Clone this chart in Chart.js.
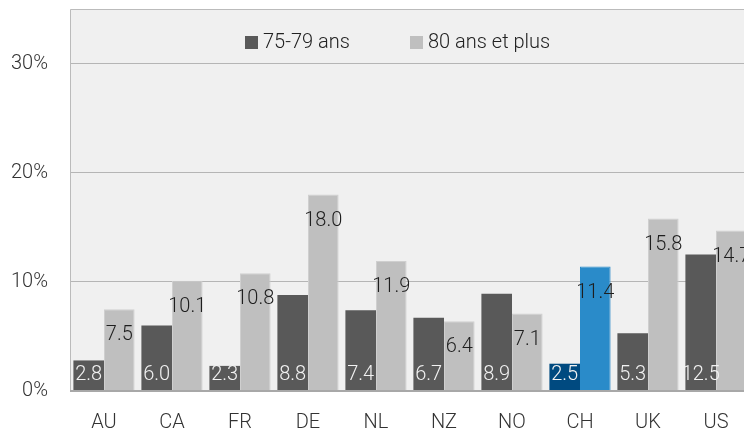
<!DOCTYPE html>
<html><head><meta charset="utf-8">
<script src="https://cdn.jsdelivr.net/npm/chart.js@4"></script>
<style>html,body{margin:0;padding:0;background:#fff;overflow:hidden;width:744px;height:432px}canvas{display:block}</style>
</head><body>
<canvas id="c" width="752" height="432" style="width:752px;height:432px"></canvas>
<script>
const categories = ["AU","CA","FR","DE","NL","NZ","NO","CH","UK","US"];
const seriesNames = ["75-79 ans","80 ans et plus"];
const age7579 = [2.8,6.0,2.3,8.8,7.4,6.7,8.9,2.5,5.3,12.5];
const age80plus = [7.5,10.1,10.8,18.0,11.9,6.4,7.1,11.4,15.8,14.7];
const yTicks = [0,10,20,30];

const FONT = "Roboto";
const darkCol = categories.map(c => c === "CH" ? "#004a80" : "#595959");
const lightCol = categories.map(c => c === "CH" ? "#2a8bc9" : "#bfbfbf");
const lightBorder = categories.map(c => c === "CH" ? "#2a8bc9" : "#cfcfcf");

const frame = {
  id: "frame",
  beforeDraw(chart) {
    const a = chart.chartArea, ctx = chart.ctx;
    ctx.save();
    ctx.fillStyle = "#f0f0f0";
    ctx.fillRect(a.left, a.top, a.right - a.left, a.bottom - a.top);
    ctx.restore();
  },
  afterDraw(chart) {
    const a = chart.chartArea, ctx = chart.ctx;
    ctx.save();
    ctx.strokeStyle = "#bbbbbb"; ctx.lineWidth = 1;
    ctx.beginPath();
    ctx.moveTo(a.left + 0.5, a.bottom); ctx.lineTo(a.left + 0.5, a.top + 0.5);
    ctx.lineTo(a.right - 0.5, a.top + 0.5); ctx.lineTo(a.right - 0.5, a.bottom);
    ctx.stroke();
    ctx.strokeStyle = "#a8a8a8"; ctx.lineWidth = 2;
    ctx.beginPath(); ctx.moveTo(a.left, a.bottom); ctx.lineTo(a.right, a.bottom); ctx.stroke();
    ctx.font = "300 20px " + FONT;
    ctx.textBaseline = "middle"; ctx.textAlign = "left";
    const items = [{x:245, col:"#595959", t:seriesNames[0]}, {x:410, col:"#bfbfbf", t:seriesNames[1]}];
    items.forEach(it => {
      ctx.fillStyle = it.col; ctx.fillRect(it.x, 36, 13, 13);
      ctx.fillStyle = "#222"; ctx.fillText(it.t, it.x + 18, 43);
    });
    ctx.restore();
  }
};

const labels = {
  id: "vlabels",
  afterDatasetsDraw(chart) {
    const ctx = chart.ctx;
    ctx.save();
    ctx.font = "300 20px " + FONT;
    ctx.textAlign = "center"; ctx.textBaseline = "middle";
    chart.data.datasets.forEach((ds, di) => {
      chart.getDatasetMeta(di).data.forEach((el, i) => {
        const txt = ds.data[i].toFixed(1);
        if (di === 0) { ctx.fillStyle = "#f2f2f2"; ctx.fillText(txt, el.x, el.base - 16); }
        else { ctx.fillStyle = "#1e1e1e"; ctx.fillText(txt, el.x, el.y + 26); }
      });
    });
    ctx.restore();
  }
};

new Chart(document.getElementById("c"), {
  type: "bar",
  data: {
    labels: categories,
    datasets: [
      { label: seriesNames[0], data: age7579, backgroundColor: darkCol, borderColor: darkCol, borderWidth: 0 },
      { label: seriesNames[1], data: age80plus, backgroundColor: lightCol, borderColor: lightBorder, borderWidth: 1 }
    ]
  },
  options: {
    responsive: false, animation: false, devicePixelRatio: 1,
    layout: { padding: { top: 9, right: 2, left: 0, bottom: 0 } },
    datasets: { bar: { categoryPercentage: 0.9, barPercentage: 1.0 } },
    plugins: { legend: { display: false }, tooltip: { enabled: false }, title: { display: false } },
    scales: {
      x: {
        grid: { display: false, drawTicks: false },
        border: { display: false },
        ticks: { color: "#333", padding: 20, font: { family: FONT, size: 20, weight: "300" }, maxRotation: 0 },
        afterFit(s) { s.height = 41; s.paddingLeft = 0; s.paddingRight = 0; }
      },
      y: {
        min: 0, max: 35,
        afterBuildTicks(s) { s.ticks = yTicks.map(v => ({ value: v })); },
        grid: { color: c => (c.tick && (c.tick.value === 0)) ? "rgba(0,0,0,0)" : "#b5b5b5", drawTicks: false, tickLength: 0 },
        border: { display: false },
        ticks: { color: "#333", padding: 22, font: { family: FONT, size: 20, weight: "300" }, callback: v => v + "%" },
        afterFit(s) { s.width = 70; s.paddingTop = 0; s.paddingBottom = 0; }
      }
    }
  },
  plugins: [frame, labels]
});
</script>
</body></html>
